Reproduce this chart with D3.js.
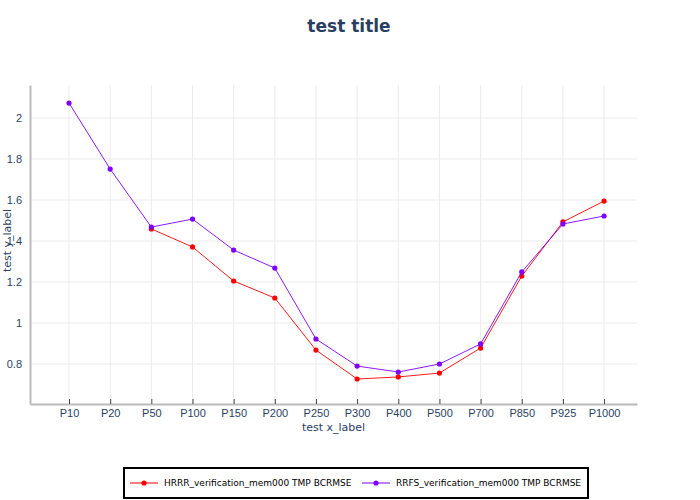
<!DOCTYPE html>
<html>
<head>
<meta charset="utf-8">
<script src="https://cdn.jsdelivr.net/npm/d3@7"></script>
<style>
body { margin: 0; background: #fff; }
svg { font-family: "DejaVu Sans", sans-serif; }
</style>
</head>
<body>
<script>
var categories = ["P10","P20","P50","P100","P150","P200","P250","P300","P400","P500","P700","P850","P925","P1000"];
var hrrrValues = [null, null, 1.459, 1.371, 1.205, 1.122, 0.868, 0.727, 0.737, 0.756, 0.878, 1.229, 1.493, 1.595];
var rrfsValues = [2.073, 1.751, 1.468, 1.507, 1.356, 1.268, 0.922, 0.790, 0.761, 0.800, 0.898, 1.249, 1.483, 1.522];
var yTicks = [0.8, 1, 1.2, 1.4, 1.6, 1.8, 2];
var seriesNames = ["HRRR_verification_mem000 TMP BCRMSE", "RRFS_verification_mem000 TMP BCRMSE"];
var seriesColors = ["#ff0000", "#7f00ff"];

var width = 700, height = 500;
var plotLeft = 30, plotRight = 637, plotTop = 85, plotBottom = 404;
var textColor = "#2a3f5f";

var svg = d3.select("body").append("svg")
  .attr("width", width)
  .attr("height", height);

var x = d3.scaleLinear()
  .domain([-0.948, 13.8])
  .range([plotLeft, plotRight]);

var y = d3.scaleLinear()
  .domain([0.605, 2.161])
  .range([plotBottom, plotTop]);

// grid
svg.append("g").selectAll("line")
  .data(categories)
  .enter().append("line")
  .attr("x1", function (d, i) { return x(i); })
  .attr("x2", function (d, i) { return x(i); })
  .attr("y1", plotTop).attr("y2", plotBottom)
  .attr("stroke", "#ebebeb").attr("stroke-width", 1);

svg.append("g").selectAll("line")
  .data(yTicks)
  .enter().append("line")
  .attr("x1", plotLeft).attr("x2", plotRight)
  .attr("y1", function (d) { return y(d); })
  .attr("y2", function (d) { return y(d); })
  .attr("stroke", "#ebebeb").attr("stroke-width", 1);

// x axis
var xAxis = svg.append("g")
  .attr("transform", "translate(0," + plotBottom + ")")
  .call(d3.axisBottom(x)
    .tickValues(d3.range(categories.length))
    .tickFormat(function (i) { return categories[i]; })
    .tickSizeInner(-5).tickSizeOuter(0).tickPadding(5));
xAxis.select(".domain").attr("stroke", "#bbbbbb").attr("stroke-width", 2);
xAxis.selectAll(".tick line").attr("stroke", "#444").attr("stroke-width", 1);
xAxis.selectAll("text").attr("fill", textColor).style("font-size", "11px").attr("font-family", null);

// y axis
var yAxis = svg.append("g")
  .attr("transform", "translate(" + plotLeft + ",0)")
  .call(d3.axisLeft(y)
    .tickValues(yTicks)
    .tickFormat(function (d) { return d3.format("")(d); })
    .tickSize(0).tickPadding(8));
yAxis.select(".domain").attr("stroke", "#bbbbbb").attr("stroke-width", 2);
yAxis.selectAll("text").attr("fill", textColor).style("font-size", "11px").attr("font-family", null);

// series
var allSeries = [hrrrValues, rrfsValues];
allSeries.forEach(function (vals, s) {
  var pts = vals.map(function (v, i) { return { i: i, v: v }; }).filter(function (p) { return p.v != null; });
  svg.append("path")
    .attr("d", d3.line().x(function (p) { return x(p.i); }).y(function (p) { return y(p.v); })(pts))
    .attr("fill", "none")
    .attr("stroke", seriesColors[s])
    .attr("stroke-width", 0.9);
  svg.append("g").selectAll("circle")
    .data(pts)
    .enter().append("circle")
    .attr("cx", function (p) { return x(p.i); })
    .attr("cy", function (p) { return y(p.v); })
    .attr("r", 2.6)
    .attr("fill", seriesColors[s]);
});

// title and labels
svg.append("text")
  .attr("x", 349).attr("y", 32)
  .attr("text-anchor", "middle")
  .attr("fill", textColor)
  .style("font-size", "17px").style("font-weight", "bold")
  .text("test title");

svg.append("text")
  .attr("x", (plotLeft + plotRight) / 2).attr("y", 431)
  .attr("text-anchor", "middle")
  .attr("fill", textColor)
  .style("font-size", "11px")
  .text("test x_label");

svg.append("text")
  .attr("transform", "translate(11," + ((plotTop + plotBottom) / 2 - 4) + ") rotate(-90)")
  .attr("text-anchor", "middle")
  .attr("fill", textColor)
  .style("font-size", "11px")
  .text("test y_label");

// legend
var legend = svg.append("g");
legend.append("rect")
  .attr("x", 124).attr("y", 468)
  .attr("width", 464).attr("height", 30)
  .attr("fill", "#fff").attr("stroke", "#000").attr("stroke-width", 2);

var legendX = [130, 362];
seriesNames.forEach(function (name, s) {
  var g = legend.append("g").attr("transform", "translate(" + legendX[s] + ",483)");
  g.append("line").attr("x1", 0).attr("x2", 28).attr("y1", 0).attr("y2", 0)
    .attr("stroke", seriesColors[s]).attr("stroke-width", 1);
  g.append("circle").attr("cx", 14).attr("cy", 0).attr("r", 2.6).attr("fill", seriesColors[s]);
  g.append("text").attr("x", 34).attr("y", 3.3)
    .attr("fill", "#000")
    .style("font-size", "9px")
    .text(name);
});
</script>
</body>
</html>
